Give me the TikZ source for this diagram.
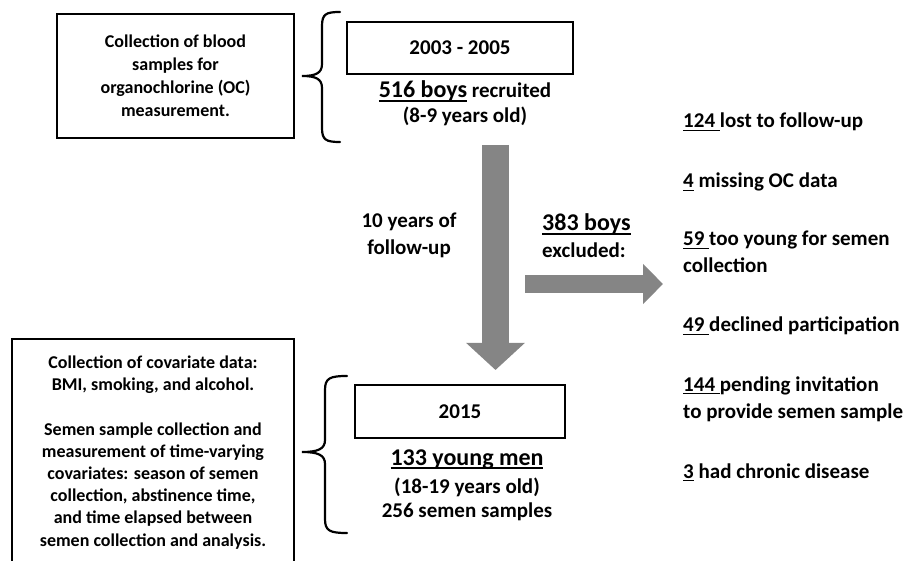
\documentclass[tikz,border=0pt]{standalone}
\usepackage{fontspec}
\setmainfont{Carlito}
\usetikzlibrary{arrows.meta,positioning}
\newcommand{\ulnum}[1]{\setbox0=\hbox{#1}\rlap{\rule[-0.16em]{\wd0}{0.07em}}\box0\relax}
\newcommand{\bignum}[1]{{\fontsize{24}{29}\selectfont\ulnum{#1}}}
\begin{document}
\begin{tikzpicture}[x=1pt, y=-1pt,
    box/.style={draw, line width=2.4pt, inner sep=0pt, align=center},
    note/.style={box, font=\fontsize{18}{23}\selectfont\bfseries},
    yearbox/.style={box, minimum height=52pt, font=\fontsize{21}{26}\selectfont\bfseries},
    txt/.style={inner sep=0pt, anchor=base, font=\fontsize{21}{27}\selectfont\bfseries},
    item/.style={txt, anchor=base west, align=left},
    fat/.style={draw=black!48},
    brace/.style={line width=2.2pt, line cap=round},
  ]
  \clip (0,0) rectangle (908,561);

  % 2003-2005 recruitment
  \node[note, minimum width=237pt, minimum height=124pt] (blood) at (175.5,76)
    {Collection of blood\\samples for\\organochlorine (OC)\\measurement.};
  \node[yearbox, minimum width=226pt] (start) at (460,48) {2003 - 2005};
  \node[txt] (recruit) at (465,98) {\bignum{516 boys} recruited};
  \node[txt] (age1) at (465,123) {(8-9 years old)};
  \draw[brace] (340,12) .. controls (326,12) and (322,14) .. (322,26) -- (322,64)
    .. controls (322,73) and (316,76) .. (302,76) .. controls (316,76) and (322,79) .. (322,88)
    -- (322,128) .. controls (322,140) and (326,142) .. (340,142);

  % follow-up
  \coordinate (down top) at (495.5,145);
  \coordinate (down tip) at (495.5,370);
  \draw[fat, line width=27pt, -{Triangle[width=57pt,length=27pt]}] (down top) -- (down tip);
  \node[txt, align=center] (followup) at (409,255) {10 years of\\follow-up};

  % exclusions
  \coordinate (excl start) at (525,284);
  \coordinate (excl tip) at (663,284);
  \draw[fat, line width=18pt, -{Triangle[width=39pt,length=20pt]}] (excl start) -- (excl tip);
  \node[txt, anchor=base west, align=left] (excl) at (542,258) {\bignum{383 boys}\\excluded:};

  \node[item] (lost) at (683,128) {\ulnum{124 }lost to follow-up};
  \node[item] (missing) at (683,188) {\ulnum{4} missing OC data};
  \node[item] (young) at (683,273) {\ulnum{59 }too young for semen\\collection};
  \node[item] (declined) at (683,332) {\ulnum{49 }declined participation};
  \node[item] (pending) at (683,418) {\ulnum{144 }pending invitation\\to provide semen sample};
  \node[item] (chronic) at (683,478) {\ulnum{3} had chronic disease};

  % 2015
  \node[box, minimum width=282pt, minimum height=240pt, anchor=north] (covbox) at (153,338) {};
  \node[txt, font=\fontsize{18}{22.2}\selectfont\bfseries, align=center] (covtxt) at (153,546)
    {Collection of covariate data:\\BMI, smoking, and alcohol.\\[22pt]Semen sample collection and\\measurement of time-varying\\covariates: season of semen\\collection, abstinence time,\\and time elapsed between\\semen collection and analysis.};
  \node[yearbox, minimum width=210pt, minimum height=53pt] (end) at (460,411.5) {2015};
  \node[txt] (men) at (467,465) {\bignum{133 young men}};
  \node[txt] (age2) at (467,493) {(18-19 years old)};
  \node[txt] (samples) at (467,517) {256 semen samples};
  \draw[brace] (347,376) .. controls (330,376) and (325,378) .. (325,390) -- (325,440)
    .. controls (325,449) and (318,452) .. (302,452) .. controls (318,452) and (325,455) .. (325,464)
    -- (325,519) .. controls (325,531) and (330,533) .. (347,533);
\end{tikzpicture}
\end{document}
